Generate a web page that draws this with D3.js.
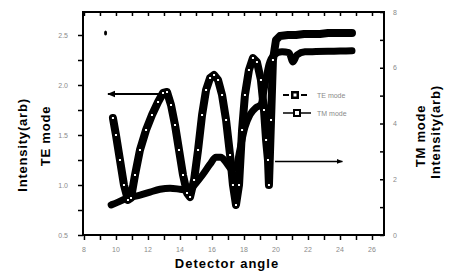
<!DOCTYPE html>
<html>
<head>
<meta charset="utf-8">
<script src="https://cdn.jsdelivr.net/npm/d3@7"></script>
<style>
  body { margin: 0; background: #fff; }
  svg { display: block; font-family: "Liberation Sans", Arial, sans-serif; }
  .tick-label { fill: #8a8a8a; font-size: 7px; }
  .title { fill: #000; font-size: 13px; font-weight: bold; }
</style>
</head>
<body>
<svg id="chart" width="451" height="274"></svg>
<script>
// TE mode (left axis)
const teAngle = [9.81, 10.0, 10.25, 10.5, 10.75, 10.94, 11.19, 11.5, 11.88, 12.25, 12.63, 12.94, 13.19, 13.44, 13.69, 13.94, 14.19, 14.44, 14.63, 14.88, 15.13, 15.38, 15.63, 15.88, 16.13, 16.38, 16.63, 16.88, 17.13, 17.31, 17.5, 17.69, 17.88, 18.06, 18.31, 18.56, 18.81, 19.06, 19.25, 19.38, 19.5, 19.56, 19.69, 19.81, 20.0, 20.25, 20.75, 21.25, 21.75, 22.25, 22.75, 23.25, 23.75, 24.25, 24.75];
const teValue = [1.67, 1.50, 1.25, 1.00, 0.85, 0.87, 1.10, 1.35, 1.55, 1.70, 1.83, 1.92, 1.93, 1.80, 1.60, 1.35, 1.10, 0.92, 0.88, 1.05, 1.35, 1.70, 1.95, 2.07, 2.10, 2.05, 1.90, 1.65, 1.30, 1.00, 0.80, 1.00, 1.55, 1.90, 2.15, 2.27, 2.23, 2.05, 1.75, 1.45, 1.25, 1.00, 1.65, 2.25, 2.45, 2.49, 2.50, 2.50, 2.51, 2.51, 2.51, 2.52, 2.52, 2.52, 2.52];

// TM mode (right axis)
const tmAngle = [9.7, 10.13, 10.56, 11.0, 11.5, 12.13, 12.75, 13.38, 14.0, 14.38, 14.63, 15.0, 15.44, 15.88, 16.25, 16.56, 16.88, 17.25, 17.5, 17.75, 18.06, 18.38, 18.75, 19.06, 19.31, 19.56, 19.88, 20.38, 20.81, 21.06, 21.31, 21.81, 22.5, 23.25, 24.0, 24.75];
const tmValue = [1.08, 1.18, 1.29, 1.36, 1.43, 1.54, 1.64, 1.68, 1.64, 1.61, 1.64, 1.86, 2.18, 2.54, 2.79, 2.79, 2.61, 2.36, 2.43, 3.07, 3.86, 4.32, 4.57, 4.68, 5.39, 6.11, 6.46, 6.57, 6.54, 6.21, 6.46, 6.57, 6.58, 6.59, 6.60, 6.61];

const xTicks = [8, 10, 12, 14, 16, 18, 20, 22, 24, 26];
const teTicks = [0.5, 1.0, 1.5, 2.0, 2.5];
const tmTicks = [0, 2, 4, 6, 8];

// arrows: [from angle, to angle, value]
const teArrow = [12.8, 9.5, 1.91];
const tmArrow = [19.94, 24.15, 2.64];
const stray = [{ angle: 9.35, te: 2.52 }];

const svg = d3.select("#chart");
const plotL = 83, plotR = 384, plotT = 12, plotB = 235;

const x = d3.scaleLinear().domain([7.94, 26.75]).range([plotL, plotR]);
const yTE = d3.scaleLinear().domain([0.5, 2.73]).range([plotB, plotT]);
const yTM = d3.scaleLinear().domain([0, 8]).range([plotB, plotT]);

const te = teAngle.map((a, i) => ({ a, v: teValue[i] }));
const tm = tmAngle.map((a, i) => ({ a, v: tmValue[i] }));

// curves
const teLine = d3.line().x(d => x(d.a)).y(d => yTE(d.v)).curve(d3.curveLinear);
const tmLine = d3.line().x(d => x(d.a)).y(d => yTM(d.v)).curve(d3.curveMonotoneX);

svg.append("path").datum(tm).attr("d", tmLine)
  .attr("fill", "none").attr("stroke", "#000").attr("stroke-width", 7)
  .attr("stroke-linejoin", "round").attr("stroke-linecap", "round");
svg.append("path").datum(te).attr("d", teLine)
  .attr("fill", "none").attr("stroke", "#000").attr("stroke-width", 8)
  .attr("stroke-linejoin", "round").attr("stroke-linecap", "round");

svg.selectAll("rect.te-dot").data(te.filter(d => d.a < 19.9)).enter()
  .append("rect").attr("class", "te-dot")
  .attr("x", d => x(d.a) - 1).attr("y", d => yTE(d.v) - 1)
  .attr("width", 2).attr("height", 2).attr("fill", "#fff");

svg.selectAll("ellipse.stray").data(stray).enter()
  .append("ellipse")
  .attr("cx", d => x(d.angle)).attr("cy", d => yTE(d.te))
  .attr("rx", 1.5).attr("ry", 2.5).attr("fill", "#000");

// axes
const ax = svg.append("g");
ax.append("g").attr("transform", `translate(0,${plotB})`)
  .call(d3.axisBottom(x).tickValues(d3.range(8, 27, 1)).tickSize(5).tickFormat(""));
ax.append("g").attr("transform", `translate(0,${plotT})`)
  .call(d3.axisBottom(x).tickValues(d3.range(8, 27, 1)).tickSize(4).tickFormat(""));
ax.append("g").attr("transform", `translate(${plotL},0)`)
  .call(d3.axisLeft(yTE).tickValues(d3.range(0.5, 2.74, 0.25)).tickSize(5).tickFormat(""));
ax.append("g").attr("transform", `translate(${plotR},0)`)
  .call(d3.axisLeft(yTM).tickValues(d3.range(0, 8.1, 1)).tickSize(4).tickFormat(""));
ax.selectAll(".domain").remove();
ax.selectAll("line").attr("stroke", "#000").attr("stroke-width", 1.5);

svg.append("rect").attr("x", plotL).attr("y", plotT)
  .attr("width", plotR - plotL).attr("height", plotB - plotT)
  .attr("fill", "none").attr("stroke", "#000").attr("stroke-width", 2);

// tick labels
svg.selectAll("text.xl").data(xTicks).enter().append("text")
  .attr("class", "tick-label").attr("x", d => x(d)).attr("y", 252)
  .attr("text-anchor", "middle").text(d => d);
svg.selectAll("text.tel").data(teTicks).enter().append("text")
  .attr("class", "tick-label").attr("x", 68).attr("y", d => yTE(d) + 2.5)
  .attr("text-anchor", "end").text(d => d.toFixed(1));
svg.selectAll("text.tml").data(tmTicks).enter().append("text")
  .attr("class", "tick-label").attr("x", 393).attr("y", d => yTM(d) + 2.5)
  .attr("text-anchor", "start").text(d => d);

// titles
svg.append("text").attr("class", "title").attr("x", 227).attr("y", 268)
  .attr("text-anchor", "middle").attr("letter-spacing", 1).text("Detector angle");
svg.append("text").attr("class", "title")
  .attr("transform", "translate(27,145) rotate(-90)")
  .attr("text-anchor", "middle").attr("letter-spacing", 0.8).text("Intensity(arb)");
svg.append("text").attr("class", "title")
  .attr("transform", "translate(50,136) rotate(-90)")
  .attr("text-anchor", "middle").attr("letter-spacing", 0.8).text("TE mode");
svg.append("text").attr("class", "title")
  .attr("transform", "translate(425,136) rotate(-90)")
  .attr("text-anchor", "middle").attr("letter-spacing", 0.8).text("TM mode");
svg.append("text").attr("class", "title")
  .attr("transform", "translate(440,132) rotate(-90)")
  .attr("text-anchor", "middle").attr("letter-spacing", 0.8).text("Intensity(arb)");

// arrows
const defs = svg.append("defs");
defs.append("marker").attr("id", "head").attr("viewBox", "0 0 10 10")
  .attr("refX", 9).attr("refY", 5).attr("markerWidth", 4).attr("markerHeight", 4)
  .attr("orient", "auto")
  .append("path").attr("d", "M0,1L10,5L0,9z").attr("fill", "#000");

svg.append("line")
  .attr("x1", x(teArrow[0])).attr("x2", x(teArrow[1]))
  .attr("y1", yTE(teArrow[2])).attr("y2", yTE(teArrow[2]))
  .attr("stroke", "#000").attr("stroke-width", 2).attr("marker-end", "url(#head)");
svg.append("line")
  .attr("x1", x(tmArrow[0])).attr("x2", x(tmArrow[1]))
  .attr("y1", yTM(tmArrow[2])).attr("y2", yTM(tmArrow[2]))
  .attr("stroke", "#000").attr("stroke-width", 1.5).attr("marker-end", "url(#head)");

// legend
const legend = svg.append("g").attr("transform", "translate(283,95)");
legend.append("line").attr("x1", 0).attr("x2", 24).attr("y1", 0).attr("y2", 0)
  .attr("stroke", "#000").attr("stroke-width", 2).attr("stroke-dasharray", "6,3");
legend.append("rect").attr("x", 8).attr("y", -4).attr("width", 8).attr("height", 8)
  .attr("fill", "#000");
legend.append("rect").attr("x", 10.5).attr("y", -1.5).attr("width", 3).attr("height", 3)
  .attr("fill", "#fff");
legend.append("text").attr("class", "tick-label").attr("x", 34).attr("y", 2.5).text("TE mode");

legend.append("line").attr("x1", 0).attr("x2", 28).attr("y1", 18).attr("y2", 18)
  .attr("stroke", "#000").attr("stroke-width", 1.5);
legend.append("rect").attr("x", 11).attr("y", 15).attr("width", 6).attr("height", 6)
  .attr("fill", "#fff").attr("stroke", "#000").attr("stroke-width", 2);
legend.append("text").attr("class", "tick-label").attr("x", 34).attr("y", 20.5).text("TM mode");
</script>
</body>
</html>
